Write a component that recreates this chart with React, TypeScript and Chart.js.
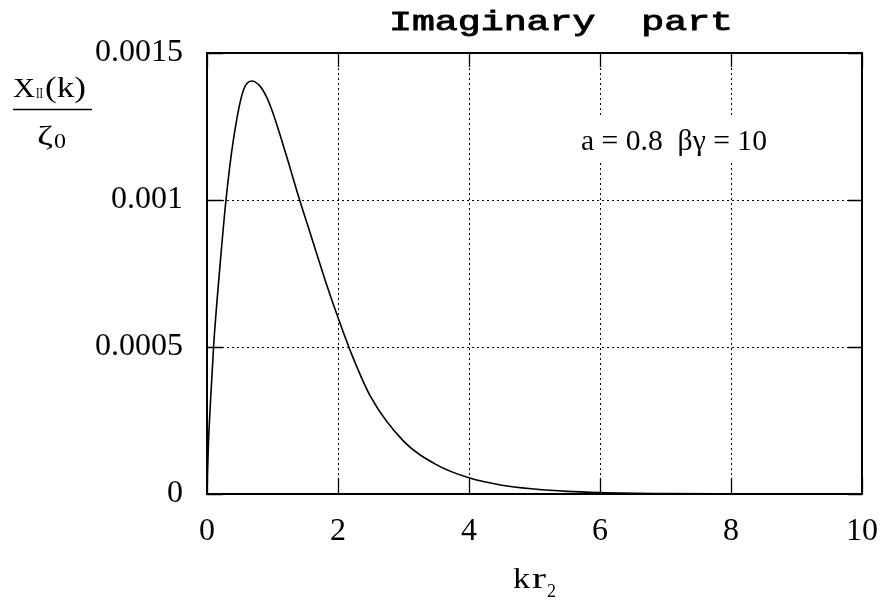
import React, { useEffect, useRef } from "react";
import { Chart, registerables } from "chart.js";

Chart.register(...registerables);

const kValues = [0, 0.02, 0.05, 0.1, 0.2, 0.29, 0.4, 0.55, 0.68, 0.8, 0.91, 1.0, 1.2, 1.4, 1.6, 1.8, 2.0, 2.2, 2.5, 3.0, 3.5, 4.0, 4.5, 5.0, 5.5, 6, 7, 8, 9, 10];
const imagValues = [0, 0.00016, 0.0003, 0.0005, 0.00078, 0.001, 0.0012, 0.00137, 0.001405, 0.00139, 0.00135, 0.0013, 0.00116, 0.00101, 0.00087, 0.00073, 0.0006, 0.00048, 0.00033, 0.00018, 0.0001, 0.000055, 0.00003, 0.000017, 0.000009, 0.000005, 0.0000015, 0.0000005, 0.0000001, 0];
const xTickValues = [0, 2, 4, 6, 8, 10];
const xTickLabels = ["0", "2", "4", "6", "8", "10"];
const yTickValues = [0, 0.0005, 0.001, 0.0015];
const yTickLabels = ["0", "0.0005", "0.001", "0.0015"];
const titleText = "Imaginary  part";
const annotationText = "a = 0.8  \u03b2\u03b3 = 10";

const SERIF = '"Liberation Serif", "Times New Roman", serif';
const MONO = '"Liberation Mono", "Courier New", monospace';

function drawStretched(ctx: CanvasRenderingContext2D, text: string, x: number, y: number, width: number, outline = 0) {
  const w = ctx.measureText(text).width;
  ctx.save();
  ctx.translate(x, y);
  ctx.scale(width / w, 1);
  ctx.textAlign = "left";
  ctx.fillText(text, 0, 0);
  if (outline > 0) {
    ctx.lineWidth = outline;
    ctx.strokeText(text, 0, 0);
  }
  ctx.restore();
}

const decorPlugin = {
  id: "decor",
  afterDatasetsDraw(chart: any) {
    const { ctx } = chart;
    ctx.save();
    ctx.fillStyle = "#fff";
    ctx.fillRect(574, 118, 198, 42);
    ctx.restore();
  },
  afterDraw(chart: any) {
    const { ctx, chartArea } = chart;
    const { left, right, top, bottom } = chartArea;
    const xs = chart.scales.x;
    const ys = chart.scales.y;
    ctx.save();
    ctx.strokeStyle = "#000";
    ctx.fillStyle = "#000";
    ctx.setLineDash([]);
    ctx.lineWidth = 1.3;
    ctx.beginPath();
    xTickValues.forEach((v) => {
      const px = Math.round(xs.getPixelForValue(v)) + 0.5;
      ctx.moveTo(px, bottom);
      ctx.lineTo(px, bottom - 16);
      ctx.moveTo(px, top);
      ctx.lineTo(px, top + 14);
    });
    yTickValues.forEach((v) => {
      const py = Math.round(ys.getPixelForValue(v)) + 0.5;
      ctx.moveTo(left, py);
      ctx.lineTo(left + 16, py);
      ctx.moveTo(right, py);
      ctx.lineTo(right - 14, py);
    });
    ctx.stroke();
    ctx.lineWidth = 2;
    ctx.strokeRect(left, top, right - left, bottom - top);

    ctx.textBaseline = "alphabetic";
    ctx.font = `28px ${MONO}`;
    drawStretched(ctx, titleText, 389, 30, 344, 0.9);

    ctx.font = `29px ${SERIF}`;
    drawStretched(ctx, annotationText, 581, 150, 186);

    ctx.font = `27px ${SERIF}`;
    drawStretched(ctx, "X", 13, 97, 22);
    ctx.font = `14px ${SERIF}`;
    drawStretched(ctx, "II", 36, 98, 7);
    ctx.font = `30px ${SERIF}`;
    drawStretched(ctx, "(k)", 45, 97, 41);
    ctx.lineWidth = 1.5;
    ctx.beginPath();
    ctx.moveTo(13, 109.5);
    ctx.lineTo(92, 109.5);
    ctx.stroke();
    ctx.font = `28px ${SERIF}`;
    drawStretched(ctx, "\u03b6", 37, 145, 16);
    ctx.font = `21px ${SERIF}`;
    drawStretched(ctx, "0", 54, 148, 12);

    ctx.font = `30px ${SERIF}`;
    drawStretched(ctx, "k", 513, 588, 17);
    drawStretched(ctx, "r", 532, 588, 14);
    ctx.font = `19px ${SERIF}`;
    drawStretched(ctx, "2", 547, 597, 9);
    ctx.restore();
  },
};

export default function App() {
  const ref = useRef<HTMLCanvasElement | null>(null);
  useEffect(() => {
    if (!ref.current) return;
    const chart = new Chart(ref.current, {
      type: "line",
      data: {
        datasets: [
          {
            data: kValues.map((k, i) => ({ x: k, y: imagValues[i] })),
            borderColor: "#000",
            borderWidth: 1.6,
            pointRadius: 0,
            fill: false,
            cubicInterpolationMode: "monotone",
          },
        ],
      },
      options: {
        animation: false,
        responsive: false,
        maintainAspectRatio: false,
        layout: { padding: { top: 53, right: 21, left: 0, bottom: 0 } },
        plugins: { legend: { display: false }, tooltip: { enabled: false }, title: { display: false } },
        scales: {
          x: {
            type: "linear",
            min: 0,
            max: 10,
            afterBuildTicks: (s: any) => {
              s.ticks = xTickValues.map((v) => ({ value: v }));
            },
            afterFit: (s: any) => {
              s.height = 108;
              s.paddingLeft = 0;
              s.paddingRight = 0;
            },
            ticks: {
              autoSkip: false,
              maxRotation: 0,
              padding: 18,
              color: "#000",
              font: { family: SERIF, size: 32 },
              callback: (_v: any, i: number) => xTickLabels[i],
            },
            grid: { color: "#000", lineWidth: 1, drawTicks: false },
            border: { display: false, dash: [2, 3] },
          },
          y: {
            type: "linear",
            min: 0,
            max: 0.0015,
            afterBuildTicks: (s: any) => {
              s.ticks = yTickValues.map((v) => ({ value: v }));
            },
            afterFit: (s: any) => {
              s.width = 207;
              s.paddingTop = 0;
              s.paddingBottom = 0;
            },
            ticks: {
              autoSkip: false,
              padding: 24,
              color: "#000",
              font: { family: SERIF, size: 32 },
              callback: (_v: any, i: number) => yTickLabels[i],
            },
            grid: { color: "#000", lineWidth: 1, drawTicks: false },
            border: { display: false, dash: [2, 3] },
          },
        },
      },
      plugins: [decorPlugin],
    });
    return () => chart.destroy();
  }, []);
  return (
    <div style={{ position: "absolute", left: 0, top: 0, width: 883, height: 602, background: "#fff" }}>
      <canvas ref={ref} width={883} height={602} style={{ display: "block" }} />
    </div>
  );
}
